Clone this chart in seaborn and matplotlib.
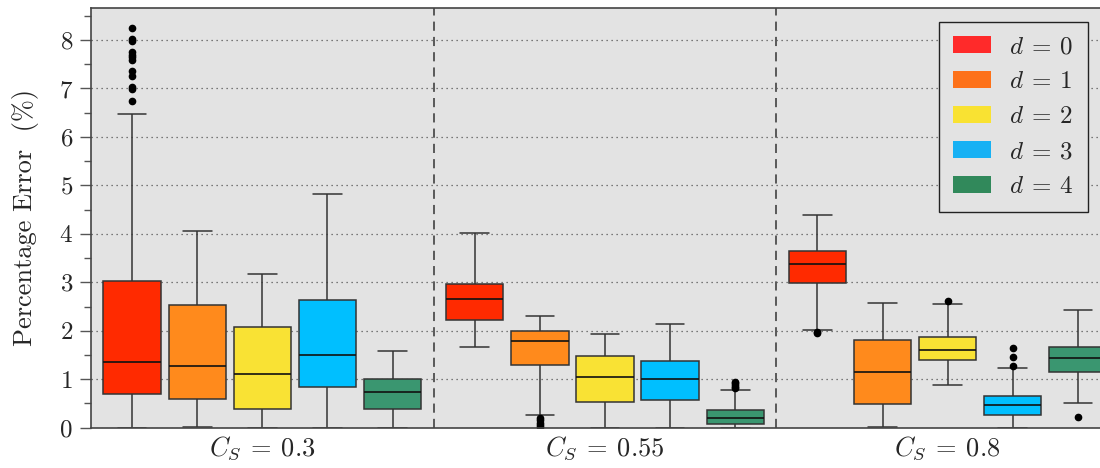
import numpy as np
import pandas as pd
import matplotlib
matplotlib.use('Agg')
import matplotlib.pyplot as plt
from matplotlib.patches import Patch
import seaborn as sns

# groups and hue levels
cs_labels = [r'$C_S\:=\:0.3$', r'$C_S\:=\:0.55$', r'$C_S\:=\:0.8$']
d_labels = [r'$d\:=\:0$', r'$d\:=\:1$', r'$d\:=\:2$', r'$d\:=\:3$', r'$d\:=\:4$']

# five-number summaries: [low whisker, q1, median, q3, high whisker]
summ_03 = [[0.00, 0.69, 1.36, 3.03, 6.47],
           [0.02, 0.59, 1.28, 2.53, 4.05],
           [0.00, 0.38, 1.11, 2.07, 3.18],
           [0.00, 0.83, 1.49, 2.64, 4.82],
           [0.00, 0.39, 0.74, 1.00, 1.58]]
summ_055 = [[1.67, 2.22, 2.66, 2.96, 4.01],
            [0.27, 1.29, 1.78, 2.00, 2.31],
            [0.00, 0.54, 1.04, 1.48, 1.93],
            [0.00, 0.57, 1.01, 1.37, 2.13],
            [0.00, 0.08, 0.19, 0.37, 0.78]]
summ_08 = [[2.02, 2.99, 3.37, 3.65, 4.39],
           [0.02, 0.49, 1.14, 1.80, 2.57],
           [0.89, 1.40, 1.60, 1.87, 2.56],
           [0.00, 0.26, 0.46, 0.66, 1.23],
           [0.50, 1.14, 1.44, 1.67, 2.42]]

# outliers
fliers_03 = [[8.24, 8.02, 7.97, 7.76, 7.70, 7.65, 7.59, 7.36, 7.25, 7.03, 6.99, 6.74],
             [], [], [], []]
fliers_055 = [[], [0.20, 0.15, 0.10, 0.05, 0.02], [], [], [0.82, 0.85, 0.88, 0.92, 0.95]]
fliers_08 = [[1.97, 1.95], [], [2.61], [1.28, 1.45, 1.64], [0.23]]

box_colors = ['#ff2a00', '#ff8a1c', '#f9e234', '#00bfff', '#3a9670']
legend_colors = ['#ff2a2a', '#fd7119', '#f9e232', '#17b1f4', '#31895b']

# long-form table: each summary value repeated so the quartiles land on it
rows = []
for cs, summ, fl in zip(cs_labels, [summ_03, summ_055, summ_08], [fliers_03, fliers_055, fliers_08]):
    for d, s, f in zip(d_labels, summ, fl):
        vals = list(np.repeat(s, 40)) + list(f)
        for v in vals:
            rows.append((cs, d, v))
df = pd.DataFrame(rows, columns=['cs', 'd', 'err'])

sns.set_style('ticks')
plt.rcParams['font.family'] = ['cmr10', 'DejaVu Serif']
plt.rcParams['mathtext.fontset'] = 'cm'
plt.rcParams['axes.formatter.use_mathtext'] = True
plt.rcParams['axes.unicode_minus'] = False

fig = plt.figure(figsize=(11, 4.68), dpi=100)
ax = fig.add_axes([91 / 1100, 1 - 427.7 / 468, 1028 / 1100, (427.7 - 8) / 468])
ax.set_facecolor('#e3e3e3')

sns.boxplot(data=df, x='cs', y='err', hue='d', order=cs_labels, hue_order=d_labels,
            palette=box_colors, saturation=1, width=0.95, gap=0.12,
            linecolor='#333333', linewidth=1.1,
            flierprops=dict(marker='o', markerfacecolor='black', markeredgecolor='black', markersize=4.5),
            medianprops=dict(color='#111111', linewidth=1.2),
            legend=False, ax=ax)

for x in [0.5, 1.5]:
    ax.axvline(x, color='#333333', linestyle=(0, (6, 4)), linewidth=1.1, zorder=0.5)

ax.set_xlim(-0.5, 2.5)
ax.set_ylim(0, 8.66)
ax.set_yticks(range(0, 9))
ax.set_yticks(np.arange(0.5, 8.6, 1.0), minor=True)
ax.yaxis.grid(True, which='major', linestyle=(0, (1, 3)), color='#555555', linewidth=0.9)
ax.set_axisbelow(True)
ax.tick_params(axis='y', which='major', length=8, width=1, color='#555555', labelsize=18, pad=5)
ax.tick_params(axis='y', which='minor', length=5, width=1, color='#555555')
ax.tick_params(axis='x', length=0, labelsize=19, pad=5)
ax.set_xlabel('')
ax.set_ylabel('Percentage Error  (%)', fontsize=19, labelpad=14)
for side in ['left', 'bottom', 'top', 'right']:
    ax.spines[side].set_color('#444444')
    ax.spines[side].set_linewidth(1.2)

handles = [Patch(facecolor=c, edgecolor='none') for c in legend_colors]
leg = ax.legend(handles, d_labels, loc='upper right', bbox_to_anchor=(1088 / 1100, 1 - 22 / 468),
                bbox_transform=fig.transFigure, borderaxespad=0, fontsize=18, fancybox=False,
                framealpha=1, facecolor='#e3e3e3', edgecolor='#222222', handlelength=1.5,
                handleheight=0.7, labelspacing=0.5, borderpad=0.55, handletextpad=0.75)
leg.get_frame().set_linewidth(1.0)

fig.savefig('out.png', dpi=100)
